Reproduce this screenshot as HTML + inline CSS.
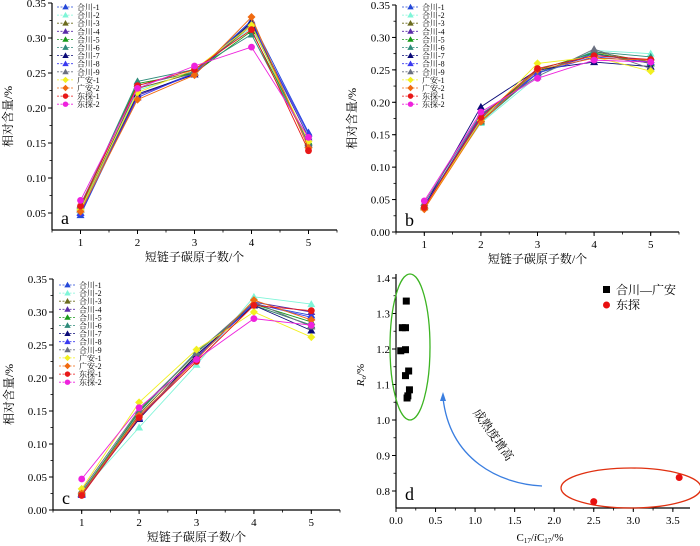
<!DOCTYPE html>
<html><head><meta charset="utf-8">
<style>
html,body{margin:0;padding:0;background:#fff;}
svg{display:block;font-family:"Liberation Serif","Noto Serif CJK SC",serif;}
</style></head>
<body>
<svg id="fig" width="700" height="546" viewBox="0 0 700 546" xmlns="http://www.w3.org/2000/svg"></svg>
<script>
const seriesNames = ["合川-1","合川-2","合川-3","合川-4","合川-5","合川-6","合川-7","合川-8","合川-9","广安-1","广安-2","东探-1","东探-2"];
const seriesColors = ["#2448d8","#7ff5d8","#6b6b1e","#5a2ca8","#1a9a1a","#2e8b7a","#0a0a78","#3a3af0","#6a7080","#f2f020","#f06a10","#e81818","#ee22dd"];
const seriesMarkers = ["tri","tri","tri","tri","tri","tri","tri","tri","tri","dia","dia","cir","cir"];
const categories = [1,2,3,4,5];
const dataA = [
[0.047,0.218,0.250,0.325,0.165],[0.052,0.225,0.252,0.315,0.160],[0.055,0.228,0.250,0.318,0.150],
[0.050,0.218,0.248,0.322,0.158],[0.058,0.235,0.250,0.310,0.152],[0.060,0.238,0.255,0.305,0.150],
[0.055,0.220,0.248,0.323,0.148],[0.050,0.215,0.250,0.320,0.163],[0.062,0.232,0.252,0.320,0.148],
[0.055,0.222,0.255,0.318,0.152],[0.052,0.212,0.247,0.330,0.143],[0.060,0.232,0.255,0.312,0.139],
[0.068,0.228,0.260,0.287,0.158]];
const dataB = [
[0.040,0.180,0.245,0.275,0.260],[0.042,0.168,0.240,0.280,0.275],[0.038,0.172,0.245,0.278,0.262],
[0.040,0.178,0.248,0.272,0.265],[0.040,0.175,0.250,0.276,0.260],[0.042,0.170,0.245,0.278,0.270],
[0.040,0.193,0.250,0.262,0.255],[0.040,0.175,0.245,0.270,0.262],[0.045,0.182,0.240,0.282,0.252],
[0.037,0.172,0.260,0.270,0.248],[0.035,0.170,0.250,0.268,0.265],[0.038,0.177,0.252,0.272,0.266],
[0.048,0.185,0.237,0.265,0.262]];
const dataC = [
[0.025,0.138,0.230,0.312,0.295],[0.028,0.125,0.220,0.323,0.312],[0.025,0.145,0.235,0.310,0.280],
[0.023,0.140,0.232,0.315,0.300],[0.025,0.150,0.238,0.312,0.285],[0.027,0.148,0.240,0.310,0.280],
[0.025,0.138,0.235,0.310,0.272],[0.023,0.140,0.230,0.313,0.292],[0.030,0.152,0.238,0.315,0.278],
[0.032,0.163,0.243,0.300,0.262],[0.025,0.143,0.228,0.318,0.288],[0.022,0.140,0.225,0.310,0.302],
[0.047,0.155,0.228,0.290,0.280]];
const yTicksA = [0.05,0.10,0.15,0.20,0.25,0.30,0.35];
const yTicksBC = [0.00,0.05,0.10,0.15,0.20,0.25,0.30,0.35];
const dSquaresX = [0.13,0.08,0.12,0.06,0.12,0.12,0.16,0.17,0.15,0.14];
const dSquaresY = [1.335,1.26,1.26,1.195,1.198,1.125,1.138,1.085,1.068,1.062];
const dCirclesX = [2.5,3.58];
const dCirclesY = [0.77,0.838];
const dXTicks = [0.0,0.5,1.0,1.5,2.0,2.5,3.0,3.5];
const dYTicks = [0.8,0.9,1.0,1.1,1.2,1.3,1.4];

const NS="http://www.w3.org/2000/svg";
const svg=document.getElementById('fig');
function el(tag,attrs,parent,text){const e=document.createElementNS(NS,tag);for(const k in attrs)e.setAttribute(k,attrs[k]);if(text!==undefined)e.textContent=text;(parent||svg).appendChild(e);return e;}

function marker(g,type,x,y,color,s){
  let e;
  if(type==='tri') e=el('polygon',{points:`${x},${y-s} ${x-s},${y+s*0.75} ${x+s},${y+s*0.75}`,fill:color},g);
  else if(type==='dia') e=el('polygon',{points:`${x},${y-s} ${x+s},${y} ${x},${y+s} ${x-s},${y}`,fill:color},g);
  else e=el('circle',{cx:x,cy:y,r:s*0.85,fill:color},g);
  return e;
}

function axes(g,L,R,T,B,sx,sy,xt,yt,xMin,xMax,yMin,yMax,xStep,yStep,fmtX,fmtY){
  el('line',{x1:L,y1:T,x2:L,y2:B,stroke:'#000','stroke-width':1.2},g);
  el('line',{x1:L,y1:B,x2:R,y2:B,stroke:'#000','stroke-width':1.2},g);
  xt.forEach(v=>{const x=sx(v);
    const t=el('line',{x1:x,y1:B,x2:x,y2:B+4,stroke:'#000'},g);
    
    const lb=el('text',{x:x,y:B+16,'text-anchor':'middle','font-size':11},g,fmtX(v));
    
  });
  for(let v=xMin;v<=xMax+1e-9;v+=xStep){const x=sx(v);if(x>=L&&x<=R)el('line',{x1:x,y1:B,x2:x,y2:B+2.5,stroke:'#000','stroke-width':0.8},g);}
  yt.forEach(v=>{const y=sy(v);
    const t=el('line',{x1:L-4,y1:y,x2:L,y2:y,stroke:'#000'},g);
    
    const lb=el('text',{x:L-6,y:y+4,'text-anchor':'end','font-size':11},g,fmtY(v));
    
  });
  for(let v=yMin;v<=yMax+1e-9;v+=yStep){const y=sy(v);if(y>=T&&y<=B)el('line',{x1:L-2.5,y1:y,x2:L,y2:y,stroke:'#000','stroke-width':0.8},g);}
}

function linePanel(name,data,L,R,T,B,xMin,xMax,yMin,yMax,yt,letter,legX,legY){
  const g=el('g',{});
  
  const sx=v=>L+(v-xMin)/(xMax-xMin)*(R-L);
  const sy=v=>B-(v-yMin)/(yMax-yMin)*(B-T);
  axes(g,L,R,T,B,sx,sy,categories,yt,0.5,5.5,0,0.35,0.5,0.025,v=>String(v),v=>v.toFixed(2));
  data.forEach((row,i)=>{
    const pts=row.map((v,j)=>sx(categories[j])+','+sy(v)).join(' ');
    const pl=el('polyline',{points:pts,fill:'none',stroke:seriesColors[i],'stroke-width':0.9},g);
    
    row.forEach((v,j)=>{
      const m=marker(g,seriesMarkers[i],sx(categories[j]),sy(v),seriesColors[i],4);
      
    });
  });
  // legend
  const lg=el('g',{},g);
  
  seriesNames.forEach((n,i)=>{
    const y=legY+i*8.1;
    el('line',{x1:legX,y1:y,x2:legX+17,y2:y,stroke:seriesColors[i],'stroke-width':0.8,'stroke-dasharray':'2,1.5'},lg);
    marker(lg,seriesMarkers[i],legX+8.5,y,seriesColors[i],3.2);
    const t=el('text',{x:legX+20,y:y+3,'font-size':8},lg,n);
    
  });
  const lt=el('text',{x:L+9,y:B-6,'font-size':18},g,letter);
  
  const xt=el('text',{x:(L+R)/2,y:B+31,'text-anchor':'middle','font-size':12},g,'短链子碳原子数/个');
  
  const cy=(T+B)/2;
  const yt2=el('text',{x:L-40,y:cy,'text-anchor':'middle','font-size':12,transform:`rotate(-90 ${L-40} ${cy})`},g,'相对含量/%');
  
}

// panel a: 0.35->y3, 700px/unit
linePanel('panel-a',dataA,52,337,3,230,0.5,5.5,0.35-(227/700),0.35,yTicksA,'a',57,7);
linePanel('panel-b',dataB,396,679,5,232,0.5,5.5,0,0.35,yTicksBC,'b',402,7);
linePanel('panel-c',dataC,53,340,279,510,0.5,5.5,0,0.35,yTicksBC,'c',59,285);

// panel d
(function(){
  const g=el('g',{});
  
  const L=396,R=690,T=274,B=508;
  const sx=v=>L+v*79.1;
  const sy=v=>491-(v-0.8)*355;
  axes(g,L,R,T,B,sx,sy,dXTicks,dYTicks,0,3.75,0.75,1.4,0.25,0.05,v=>v.toFixed(1),v=>v.toFixed(1));
  const ge=el('ellipse',{cx:410,cy:347,rx:20,ry:73,fill:'none',stroke:'#3cb422','stroke-width':1.3},g);
  
  const re=el('ellipse',{cx:631,cy:488,rx:70,ry:20,fill:'none',stroke:'#e03010','stroke-width':1.3},g);
  
  const ar=el('path',{d:'M542,486 C500,484 450,460 443,398',fill:'none',stroke:'#3a7ee0','stroke-width':1.3},g);
  
  el('polygon',{points:'443,392 440,401 446,401',fill:'#3a7ee0'},g);
  const at=el('text',{x:490,y:437,'text-anchor':'middle','font-size':12,transform:'rotate(55 490 437)'},g,'成熟度增高');
  
  dSquaresX.forEach((x,i)=>{
    const r=el('rect',{x:sx(x)-3.5,y:sy(dSquaresY[i])-3.5,width:7,height:7,fill:'#000'},g);
    
  });
  dCirclesX.forEach((x,i)=>{
    const c=el('circle',{cx:sx(x),cy:sy(dCirclesY[i]),r:3.5,fill:'#e81010'},g);
    
  });
  const lg=el('g',{},g);
  el('rect',{x:603,y:286,width:7,height:7,fill:'#000'},lg);
  const t1=el('text',{x:616,y:294,'font-size':12},lg,'合川—广安');
  
  el('circle',{cx:606.5,cy:305,r:3.5,fill:'#e81010'},lg);
  const t2=el('text',{x:616,y:309,'font-size':12},lg,'东探');
  
  const lt=el('text',{x:405,y:500,'font-size':18},g,'d');
  
  const xt=el('text',{x:540,y:541,'text-anchor':'middle','font-size':11},g);
  
  xt.innerHTML='C<tspan font-size="7" dy="2">17</tspan><tspan dy="-2">/</tspan><tspan font-style="italic">i</tspan>C<tspan font-size="7" dy="2">17</tspan><tspan dy="-2">/%</tspan>';
  const yt=el('text',{x:364,y:375,'text-anchor':'middle','font-size':11,transform:'rotate(-90 364 375)'},g);
  
  yt.innerHTML='<tspan font-style="italic">R</tspan><tspan font-size="7" dy="2">o</tspan><tspan dy="-2">/%</tspan>';
})();
</script>
</body></html>
